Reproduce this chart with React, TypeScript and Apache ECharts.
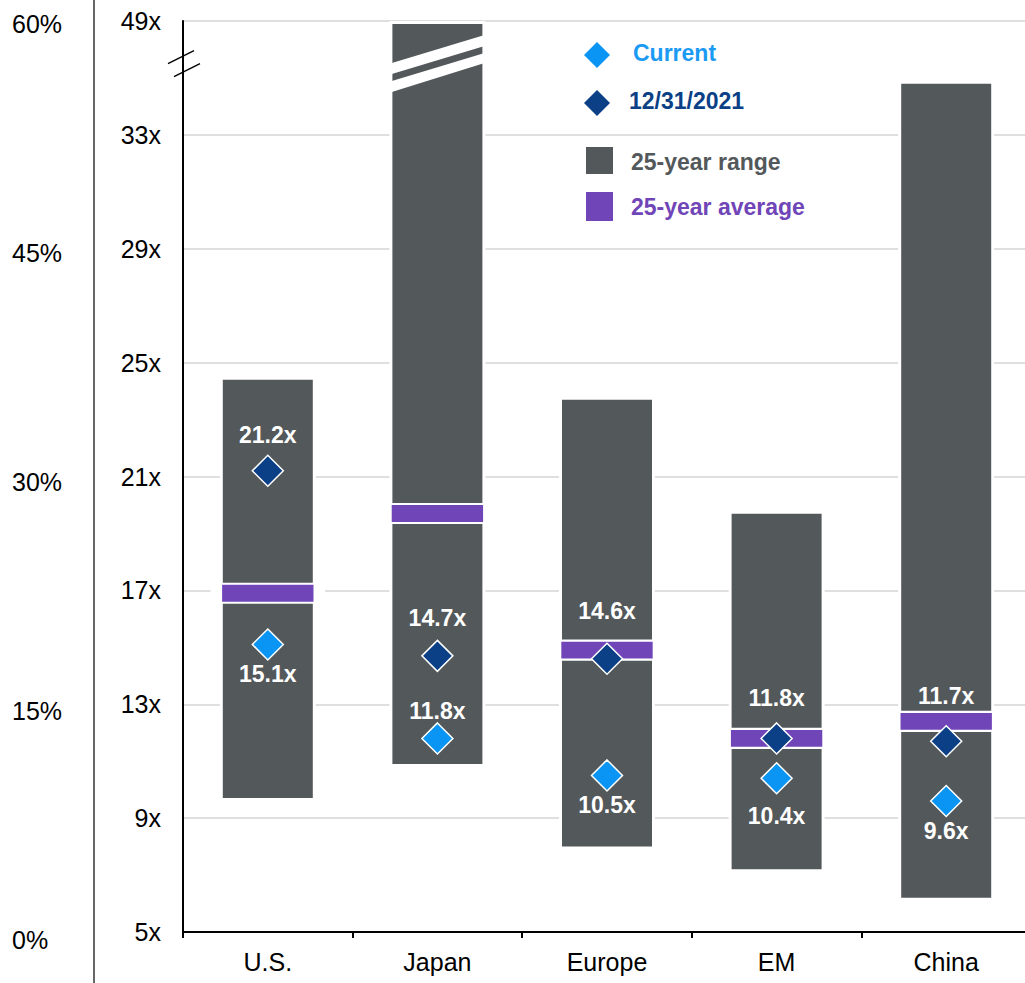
import React, { useEffect, useRef } from "react";
import * as echarts from "echarts";

// Forward P/E by region: 25-year range, 25-year average, 12/31/2021 and current
const categories = ["U.S.", "Japan", "Europe", "EM", "China"];
const rangeLow = [9.6, 10.8, 7.9, 7.1, 6.1];
const rangeHigh = [24.5, 49, 23.8, 19.8, 34.9];
const average = [16.9, 19.7, 14.9, 11.8, 12.4];
const current = [15.1, 11.8, 10.5, 10.4, 9.6];
const prior = [21.2, 14.7, 14.6, 11.8, 11.7];

const valueTickLabels = ["5x", "9x", "13x", "17x", "21x", "25x", "29x", "33x", "49x"];
const percentTickLabels = ["0%", "15%", "30%", "45%", "60%"];

// Broken value axis: linear up to BREAK_AT, then compressed so that TOP_VALUE lands at AXIS_MAX
const AXIS_MIN = 5;
const AXIS_MAX = 37;
const AXIS_STEP = 4;
const BREAK_AT = 35.5;
const TOP_VALUE = 49;
const toAxis = (v: number) =>
  v <= BREAK_AT ? v : BREAK_AT + ((v - BREAK_AT) * (AXIS_MAX - BREAK_AT)) / (TOP_VALUE - BREAK_AT);

// Label offsets (px) for the value labels of the two diamond series
const currentLabelDy = [30, -27, 30, 38, 30];
const priorLabelDy = [-36, -38, -48, -40, -45];

const FONT = '"Liberation Sans", Arial, sans-serif';
const C_CURRENT = "#0a95f4";
const C_PRIOR = "#0b3f86";
const C_RANGE = "#53585b";
const C_AVG = "#7045b8";

const GRID_LEFT = 183;

export default function App() {
  const ref = useRef<HTMLDivElement>(null);

  useEffect(() => {
    if (!ref.current) return;
    const chart = echarts.init(ref.current, null, { renderer: "svg" });

    const labelStyle = {
      show: true,
      position: "inside" as const,
      color: "#ffffff",
      fontFamily: FONT,
      fontSize: 23,
      fontWeight: "bold" as const,
      formatter: (p: any) => `${p.data.raw.toFixed(1)}x`,
    };

    const option: any = {
      animation: false,
      grid: [
        { left: GRID_LEFT, width: 848, top: 21, bottom: 51, outerBoundsMode: "none", containLabel: false },
        { left: 94, width: 1, top: 24, bottom: 43, outerBoundsMode: "none", containLabel: false },
      ],
      xAxis: [
        {
          type: "category",
          gridIndex: 0,
          data: categories,
          axisLine: { show: true, lineStyle: { color: "#000", width: 2 } },
          axisTick: { show: true, length: 6, lineStyle: { color: "#000", width: 2 } },
          axisLabel: { color: "#000", fontFamily: FONT, fontSize: 25, margin: 17 },
        },
        { type: "value", gridIndex: 1, show: false },
      ],
      yAxis: [
        {
          type: "value",
          gridIndex: 0,
          min: AXIS_MIN,
          max: AXIS_MAX,
          interval: AXIS_STEP,
          axisLine: { show: true, lineStyle: { color: "#000", width: 2 } },
          axisTick: { show: false },
          splitLine: { show: true, lineStyle: { color: "#d4d4d4", width: 1.5 } },
          axisLabel: {
            color: "#000",
            fontFamily: FONT,
            fontSize: 25,
            margin: 22,
            formatter: (v: number) => valueTickLabels[Math.round((v - AXIS_MIN) / AXIS_STEP)] ?? "",
          },
        },
        {
          type: "value",
          gridIndex: 1,
          min: 0,
          max: 60,
          interval: 15,
          axisLine: { show: false },
          axisTick: { show: false },
          splitLine: { show: false },
          axisLabel: {
            color: "#000",
            fontFamily: FONT,
            fontSize: 25,
            margin: 82,
            align: "left",
            formatter: (v: number) => percentTickLabels[Math.round(v / 15)] ?? "",
          },
        },
      ],
      series: [
        {
          name: "base",
          type: "bar",
          stack: "range",
          barWidth: 96,
          itemStyle: { color: "transparent" },
          data: rangeLow.map(toAxis),
          z: 2,
        },
        {
          name: "25-year range",
          type: "bar",
          stack: "range",
          barWidth: 96,
          itemStyle: { color: C_RANGE, borderColor: "#ffffff", borderWidth: 3 },
          data: rangeHigh.map((h, i) => toAxis(h) - toAxis(rangeLow[i])),
          z: 2,
        },
        {
          name: "25-year average",
          type: "scatter",
          symbol: "rect",
          symbolSize: [103, 19],
          itemStyle: { color: C_AVG, borderColor: "#ffffff", borderWidth: 5, opacity: 1 },
          data: average.map((v, i) => [i, toAxis(v)]),
          z: 3,
        },
        {
          name: "12/31/2021",
          type: "scatter",
          symbol: "diamond",
          symbolSize: 31,
          itemStyle: { color: C_PRIOR, borderColor: "#ffffff", borderWidth: 1.5, opacity: 1 },
          label: labelStyle,
          data: prior.map((v, i) => ({
            value: [i, toAxis(v)],
            raw: v,
            label: { offset: [0, priorLabelDy[i]] },
          })),
          z: 4,
        },
        {
          name: "Current",
          type: "scatter",
          symbol: "diamond",
          symbolSize: 31,
          itemStyle: { color: C_CURRENT, borderColor: "#ffffff", borderWidth: 1.5, opacity: 1 },
          label: labelStyle,
          data: current.map((v, i) => ({
            value: [i, toAxis(v)],
            raw: v,
            label: { offset: [0, currentLabelDy[i]] },
          })),
          z: 5,
        },
      ],
    };

    chart.setOption(option);

    // Break markers: on the Japan bar and on the value axis
    const [jx, jy] = chart.convertToPixel({ gridIndex: 0 }, [1, BREAK_AT]) as number[];
    const [, ay] = chart.convertToPixel({ gridIndex: 0 }, [0, BREAK_AT]) as number[];

    const legendText = (text: string, x: number, y: number, fill: string) => ({
      type: "text",
      x,
      y,
      z: 100,
      style: {
        text,
        fill,
        fontFamily: FONT,
        fontSize: 23,
        fontWeight: "bold",
        align: "left",
        verticalAlign: "middle",
      },
    });
    const diamond = (cx: number, cy: number, r: number, fill: string) => ({
      type: "polygon",
      z: 100,
      shape: { points: [[cx, cy - r], [cx + r, cy], [cx, cy + r], [cx - r, cy]] },
      style: { fill },
    });

    chart.setOption({
      graphic: [
        // left-hand percent axis line
        {
          type: "line",
          z: 100,
          shape: { x1: 94, y1: 0, x2: 94, y2: 983 },
          style: { stroke: "#000", lineWidth: 1.2 },
        },
        // white cut through the Japan range bar
        {
          type: "polygon",
          z: 100,
          shape: { points: [[jx - 48, jy], [jx + 48, jy - 29], [jx + 48, jy - 18], [jx - 48, jy + 11]] },
          style: { fill: "#ffffff" },
        },
        {
          type: "polygon",
          z: 100,
          shape: { points: [[jx - 48, jy + 18], [jx + 48, jy - 11], [jx + 48, jy - 1], [jx - 48, jy + 29]] },
          style: { fill: "#ffffff" },
        },
        // axis break marks
        {
          type: "line",
          z: 100,
          shape: { x1: GRID_LEFT - 15, y1: ay, x2: GRID_LEFT + 11, y2: ay - 13 },
          style: { stroke: "#000", lineWidth: 1.5 },
        },
        {
          type: "line",
          z: 100,
          shape: { x1: GRID_LEFT - 9, y1: ay + 13, x2: GRID_LEFT + 17, y2: ay },
          style: { stroke: "#000", lineWidth: 1.5 },
        },
        // legend
        diamond(597, 55, 13, C_CURRENT),
        legendText("Current", 633, 53, "#1a9af2"),
        diamond(597, 103, 13, C_PRIOR),
        legendText("12/31/2021", 629, 101, C_PRIOR),
        { type: "rect", z: 100, shape: { x: 586, y: 147, width: 27, height: 27 }, style: { fill: C_RANGE } },
        legendText("25-year range", 631, 162, C_RANGE),
        { type: "rect", z: 100, shape: { x: 586, y: 192, width: 27, height: 29 }, style: { fill: C_AVG } },
        legendText("25-year average", 631, 207, C_AVG),
      ],
    });

    return () => chart.dispose();
  }, []);

  return (
    <div
      ref={ref}
      style={{ position: "absolute", left: 0, top: 0, width: 1025, height: 983, background: "#fff" }}
    />
  );
}
